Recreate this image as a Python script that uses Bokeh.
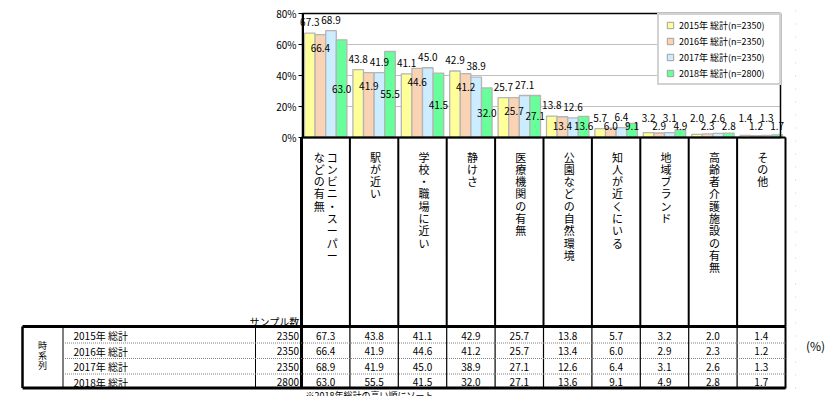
from bokeh.plotting import figure
from bokeh.models import Range1d, Legend, LegendItem
from bokeh.core.properties import value
from bokeh.embed import file_html
from bokeh.resources import INLINE

# ---------------- data ----------------
categories = ["コンビニ・スーパーなどの有無", "駅が近い", "学校・職場に近い", "静けさ", "医療機関の有無",
              "公園などの自然環境", "知人が近くにいる", "地域ブランド", "高齢者介護施設の有無", "その他"]
series_names = ["2015年 総計", "2016年 総計", "2017年 総計", "2018年 総計"]
sample_sizes = [2350, 2350, 2350, 2800]
v2015 = [67.3, 43.8, 41.1, 42.9, 25.7, 13.8, 5.7, 3.2, 2.0, 1.4]
v2016 = [66.4, 41.9, 44.6, 41.2, 25.7, 13.4, 6.0, 2.9, 2.3, 1.2]
v2017 = [68.9, 41.9, 45.0, 38.9, 27.1, 12.6, 6.4, 3.1, 2.6, 1.3]
v2018 = [63.0, 55.5, 41.5, 32.0, 27.1, 13.6, 9.1, 4.9, 2.8, 1.7]
y_ticks = [0, 20, 40, 60, 80]
group_label = "時系列"
sample_header = "サンプル数"
unit_label = "(%)"
note_text = "※2018年総計の高い順にソート"

series = [v2015, v2016, v2017, v2018]

# ---------------- styles / layout ----------------
colors = ["#FFFF99", "#FAD3B5", "#CCECFF", "#66FF99"]
FONT_NAME = "Noto Sans CJK JP"
FONT = value(FONT_NAME)
W, H = 832, 396
PX0, CW = 301.0, 48.4     # page x of first column, column width in px
PY0, PPU = 137.0, 1.55    # page y of 0 %, px per %
OFF = 0                   # canvas offset on the page


def X(px):
    return (px - PX0) / CW


def Y(py):
    return (PY0 - py) / PPU


p = figure(width=W, height=H, output_backend="svg", toolbar_location=None,
           x_range=Range1d(X(OFF), X(OFF + W)), y_range=Range1d(Y(OFF + H), Y(OFF)),
           x_axis_type=None, y_axis_type=None, min_border=0,
           outline_line_color=None)
p.background_fill_color = "white"
p.border_fill_color = "white"

n = len(categories)
BW = 0.219
top = y_ticks[-1]

# grid lines
grid_y = [t for t in y_ticks[1:-1]]
p.segment(x0=[X(303)] * len(grid_y), x1=[X(780)] * len(grid_y), y0=grid_y, y1=grid_y,
          line_color="#bfbfbf", line_width=1)

# bars
for j, vals in enumerate(series):
    xs = [i + 0.5 + (j - 1.5) * BW for i in range(n)]
    p.vbar(x=xs, width=BW, top=vals, bottom=0, fill_color=colors[j],
           line_color="#b5b5b5", line_width=1.3)

# plot frame
p.quad(left=[X(302)], right=[X(780)], bottom=[0], top=[top], fill_color=None,
       line_color="black", line_width=1.5)
p.segment(x0=[X(302.5)], x1=[X(302.5)], y0=[0], y1=[top], line_color="black", line_width=2)
p.segment(x0=[X(298)] * len(y_ticks), x1=[X(302.5)] * len(y_ticks), y0=y_ticks, y1=y_ticks,
          line_color="black", line_width=1)

# y tick labels
p.text(x=[X(296)] * len(y_ticks), y=y_ticks, text=[f"{t}%" for t in y_ticks],
       text_align="right", text_baseline="middle", text_font=FONT,
       text_font_size="10px", text_color="black")

# data labels
lx, ly, lt = [], [], []
for j, vals in enumerate(series):
    for i, v in enumerate(vals):
        if j in (0, 2):
            yy = max(v + 7.0, 12.5)
        elif j == 1:
            yy = max(v - 8.8, 7.1)
        else:
            yy = max(v / 2.0, 7.1)
        lx.append(i + 0.5 + (j - 1.5) * BW)
        ly.append(yy)
        lt.append(f"{v:.1f}")
p.text(x=lx, y=ly, text=lt, text_align="center", text_baseline="middle",
       text_font=FONT, text_font_size="10px", text_color="black")

# category area lines
p.segment(x0=[0], x1=[X(785)], y0=[0], y1=[0], line_color="black", line_width=2)
cols = list(range(n + 1))
p.segment(x0=cols, x1=cols, y0=[0] * len(cols), y1=[Y(326)] * len(cols),
          line_color="black", line_width=[3] + [2] * n)
p.segment(x0=cols, x1=cols, y0=[Y(326)] * len(cols), y1=[Y(388)] * len(cols),
          line_color="black", line_width=[3] + [1.2] * (n - 1) + [2])

# vertical category labels
cx, cy, ct = [], [], []
for i, name in enumerate(categories):
    if len(name) > 10:
        parts = [name[:9], name[9:]]
        offs = [6.5, -6.5]
    else:
        parts = [name]
        offs = [1.5]
    for part, o in zip(parts, offs):
        cx.append(i + 0.5 + o / CW)
        cy.append(Y(148))
        ct.append("\n".join(part))
p.text(x=cx, y=cy, text=ct, text_align="center", text_baseline="top",
       text_font=FONT, text_font_size="11px", text_line_height=0.77, text_color="black")

# ---------------- table ----------------
row_y = [Y(335), Y(350.5), Y(366.2), Y(381.5)]
p.segment(x0=[X(22)], x1=[X(785)], y0=[Y(326)], y1=[Y(326)], line_color="black", line_width=3)
p.segment(x0=[X(22)], x1=[X(785)], y0=[Y(387.5)], y1=[Y(387.5)], line_color="black", line_width=3)
p.segment(x0=[X(22), X(62.5), X(255)], x1=[X(22), X(62.5), X(255)],
          y0=[Y(326)] * 3, y1=[Y(387.5)] * 3, line_color="black", line_width=[2.5, 1, 1])
div_y = [Y(342.5), Y(358), Y(373.5)]
p.segment(x0=[X(62.5)] * 3, x1=[X(785)] * 3, y0=div_y, y1=div_y,
          line_color="#808080", line_width=1, line_dash="1 1")

p.text(x=[X(42)], y=[Y(355)], text=["\n".join(group_label)], text_align="center",
       text_baseline="middle", text_font=FONT, text_font_size="9px",
       text_line_height=0.78, text_color="black")
p.text(x=[X(73)] * 4, y=row_y, text=series_names, text_align="left", text_baseline="middle",
       text_font=FONT, text_font_size="10px", text_color="black")
p.text(x=[X(298.5)] * 4, y=row_y, text=[str(s) for s in sample_sizes], text_align="right",
       text_baseline="middle", text_font=FONT, text_font_size="10px", text_color="black")
p.text(x=[X(299)], y=[Y(321)], text=[sample_header], text_align="right", text_baseline="middle",
       text_font=FONT, text_font_size="10px", text_color="black")

tx, ty, tt = [], [], []
for j, vals in enumerate(series):
    for i, v in enumerate(vals):
        tx.append(i + 0.5)
        ty.append(row_y[j])
        tt.append(f"{v:.1f}")
p.text(x=tx, y=ty, text=tt, text_align="center", text_baseline="middle",
       text_font=FONT, text_font_size="10px", text_color="black")

p.text(x=[X(815)], y=[Y(345)], text=[unit_label], text_align="center", text_baseline="middle",
       text_font=FONT, text_font_size="12px", text_color="black")
p.text(x=[X(305)], y=[Y(388.5)], text=[note_text], text_align="left", text_baseline="top",
       text_font=FONT, text_font_size="9px", text_color="black")

# faint dotted guide on the right
p.segment(x0=[X(795)], x1=[X(795)], y0=[Y(10)], y1=[Y(395)], line_color="#d0d0d0",
          line_width=1, line_dash="1 12")

# ---------------- legend ----------------
items = []
for j, name in enumerate(series_names):
    r = p.scatter(x=[X(-50)], y=[0], marker="square", size=7, fill_color=colors[j],
                  line_color="#a0a0a0", line_width=1)
    items.append(LegendItem(label=f"{name}(n={sample_sizes[j]})", renderers=[r]))
legend = Legend(items=items, location=(657 - OFF, H - (85 - OFF)), margin=0, padding=2,
                spacing=0, glyph_width=18, glyph_height=16, label_height=16, label_width=98,
                label_standoff=0, label_text_font=FONT_NAME, label_text_font_size="9px",
                label_text_color="black", border_line_color="#a6a6a6", border_line_width=2,
                background_fill_color="white", background_fill_alpha=1)
p.add_layout(legend)

open("out.html", "w").write(file_html(p, INLINE))
